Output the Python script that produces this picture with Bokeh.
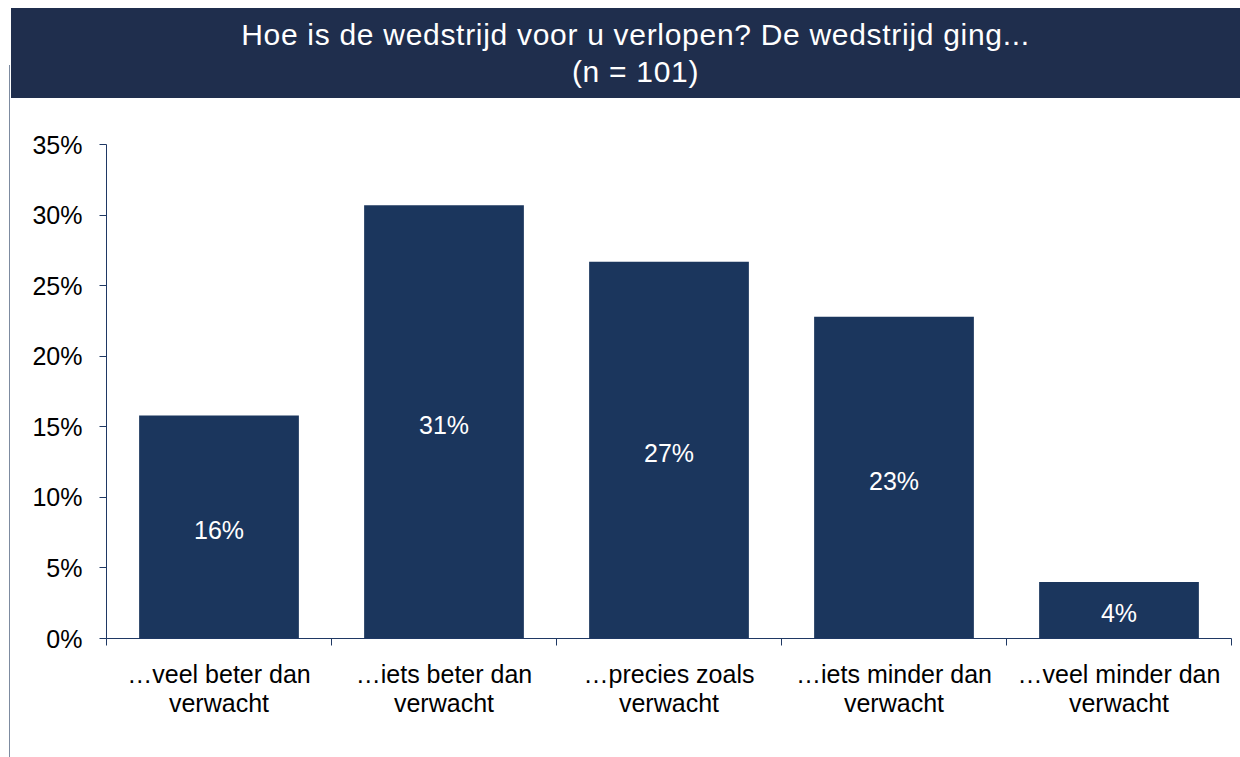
from bokeh.plotting import figure
from bokeh.models import Range1d, FixedTicker, Div, Spacer, ColumnDataSource, NumeralTickFormatter
from bokeh.layouts import row, column
from bokeh.core.properties import value
from bokeh.embed import file_html
from bokeh.resources import INLINE

# ---- data ----
title_line1 = "Hoe is de wedstrijd voor u verlopen? De wedstrijd ging..."
title_line2 = "(n = 101)"
categories = [
    "…veel beter dan\nverwacht",
    "…iets beter dan\nverwacht",
    "…precies zoals\nverwacht",
    "…iets minder dan\nverwacht",
    "…veel minder dan\nverwacht",
]
values = [0.158, 0.307, 0.267, 0.228, 0.040]
value_labels = ["16%", "31%", "27%", "23%", "4%"]
y_ticks = [0.0, 0.05, 0.10, 0.15, 0.20, 0.25, 0.30, 0.35]

BAR = "#1b365d"
HEAD = "#1f2e4d"
AXIS = "#1f3864"
FONT = "Liberation Sans"

xs = [i + 0.5 for i in range(len(categories))]
source = ColumnDataSource(dict(
    x=xs,
    top=values,
    mid=[v / 2 for v in values],
    label=value_labels,
))

p = figure(
    width=1229, height=651,
    x_range=Range1d(0, len(categories)), y_range=Range1d(0, 0.35),
    output_backend="svg", toolbar_location=None,
    min_border_left=95, min_border_right=9, min_border_top=46, min_border_bottom=111,
)
p.outline_line_color = None
p.xgrid.grid_line_color = None
p.ygrid.grid_line_color = None
p.background_fill_color = "white"
p.border_fill_color = "white"

p.vbar(x="x", top="top", bottom=0, width=0.71, source=source,
       fill_color=BAR, line_color=None)
p.text(x="x", y="mid", text="label", source=source, y_offset=3,
       text_color="white", text_font=value(FONT), text_font_size="25px",
       text_align="center", text_baseline="middle")

# y axis
ya = p.yaxis[0]
ya.ticker = FixedTicker(ticks=y_ticks)
ya.formatter = NumeralTickFormatter(format="0%")
ya.major_label_text_font = FONT
ya.major_label_text_font_size = "25px"
ya.major_label_text_color = "black"
ya.major_tick_out = 7
ya.major_tick_in = 0
ya.minor_tick_out = 0
ya.minor_tick_in = 0
ya.axis_line_color = AXIS
ya.major_tick_line_color = AXIS
ya.major_label_standoff = 17

# x axis
xa = p.xaxis[0]
xa.ticker = FixedTicker(ticks=xs, minor_ticks=[float(i) for i in range(len(categories) + 1)])
xa.major_label_overrides = {x: c for x, c in zip(xs, categories)}
xa.major_label_text_font = FONT
xa.major_label_text_font_size = "25px"
xa.major_label_text_color = "black"
xa.major_label_text_line_height = 1.05
xa.major_tick_line_color = None
xa.major_tick_out = 0
xa.major_tick_in = 0
xa.minor_tick_out = 7
xa.minor_tick_in = 0
xa.minor_tick_line_color = AXIS
xa.axis_line_color = AXIS
xa.major_label_standoff = 14

title_html = (
    '<div style="width:1229px; box-sizing:border-box; padding:8px 0 0 20px; '
    'font-family:\'Liberation Sans\', Arial, sans-serif; '
    'font-size:30px; line-height:37px; letter-spacing:0.7px; color:#ffffff; text-align:center;">'
    + title_line1 + "<br>" + title_line2 + "</div>"
)
title_div = Div(text=title_html, width=1229, height=90, margin=(0, 0, 0, 0),
                styles={"background-color": HEAD})

spacer = Spacer(width=3, height=57, margin=(0, 0, 0, 0))
line_div = Div(text="", width=1, height=692, margin=(0, 1, 0, 1),
               styles={"background-color": "#7d8ba0"})

layout = row(
    column(spacer, line_div, spacing=0, margin=(0, 0, 0, 0)),
    column(title_div, p, spacing=0, margin=(0, 0, 0, 0)),
    spacing=0, margin=(8, 0, 0, 8),
)

open("out.html", "w").write(file_html(layout, INLINE))
